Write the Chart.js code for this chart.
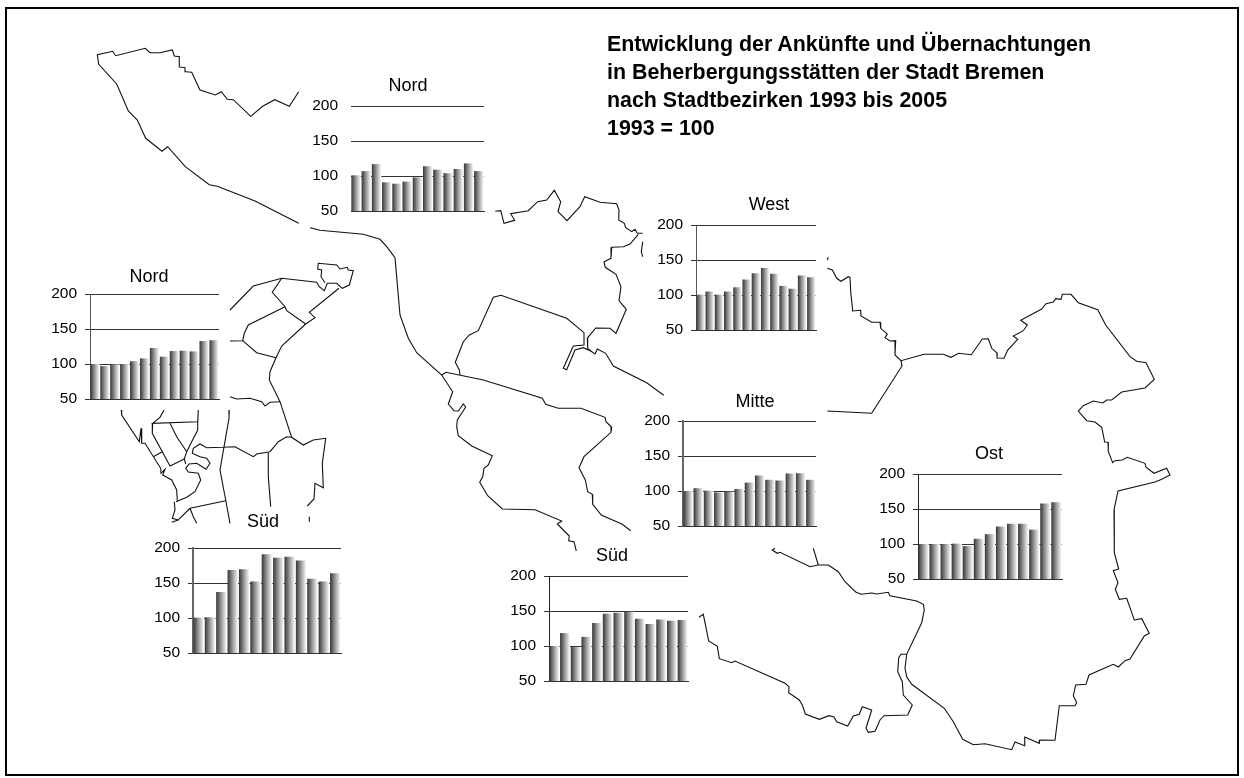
<!DOCTYPE html>
<html lang="de">
<head>
<meta charset="utf-8">
<title>Entwicklung der Ankünfte und Übernachtungen</title>
<script src="https://cdn.jsdelivr.net/npm/chart.js@4/dist/chart.umd.min.js"></script>
<style>
html,body{margin:0;padding:0;background:#fff;overflow:hidden}
#page{position:relative;width:1244px;height:778px;background:#fff;overflow:hidden}
#frame{position:absolute;left:5px;top:7px;width:1230px;height:765px;border:2px solid #000;box-sizing:content-box;pointer-events:none}
canvas{position:absolute}
#heading{position:absolute;left:607px;top:30px;font:bold 21.4px/28px "Liberation Sans",Arial,sans-serif;color:#000;white-space:nowrap}
</style>
</head>
<body>
<div id="page">
<canvas id="map" width="1244" height="778" style="left:0;top:0"></canvas>
<div id="frame"></div>
<div id="heading">Entwicklung der Ankünfte und Übernachtungen<br>in Beherbergungsstätten der Stadt Bremen<br>nach Stadtbezirken 1993 bis 2005<br>1993 = 100</div>
</div>
<script>
const years = [1993,1994,1995,1996,1997,1998,1999,2000,2001,2002,2003,2004,2005];
const tickValues = [50,100,150,200];

const nordTop  = [101,107,117,91,89,92,98,114,109,104,110,118,107];
const nordLeft = [100,97,99.5,100,104,108,123,110.5,118.5,119,118,133,134];
const suedLeft = [100.5,101,137,168.5,169.5,152,191,186,187.5,182,156,152,164];
const suedMid  = [100,118.5,98.5,113,133,146,147.5,149,139,131.5,138,136,137];
const west     = [100.5,105,100.5,105,111,122,131,138.5,130.5,113,109,128,125.5];
const mitte    = [100,104,100.5,98,99,103,112,122,116,115,125,125.5,116];
const ost      = [100,100,100,100.5,97,107.5,114,125,129,129,120.5,158,159.5];

const outlineNorthWest = [[298.7,91.7],[289.3,106.3],[274.7,99.7],[262.7,106.3],[250.7,116.3],[233.3,99.7],[227.3,99.3],[221.3,91.7],[215.3,95],[200,90],[191.7,72.3],[185.7,71.7],[185,67.7],[179.7,67],[179.3,56.7],[174.3,56],[172.3,50],[160,52.7],[150,52.7],[145.3,48.3],[115.7,55.7],[112.7,51.3],[97.3,54.7],[98.7,64.3],[116.7,84],[128.3,111],[137.3,120],[145.7,138.3],[162,151.3],[167.7,146.7],[185.3,166.7],[209.3,184.7],[217.3,186.3],[255,201],[298.7,223.3]];
const outlineWeser = [[310,227.7],[320,230.3],[363.3,234.3],[380,239.3],[386.7,246.7],[395,257.7],[400,315],[408.3,338.3],[416.7,352.7],[441.7,375],[452.7,391.7],[448.3,404],[454,410.7],[458.3,411],[463.3,404],[465.7,407],[457.3,420],[456.7,426.7],[458.3,435.7],[471.7,446],[492.3,455.7],[488.3,465],[484,468.3],[482.7,476.7],[479.7,482.3],[487.7,495.7],[502.3,509],[535,509.7],[561.7,521],[557.3,524],[569.3,536],[568.7,540.7],[574,541.7],[576.3,551]];
const outlineMitte = [[441.7,375],[446,372.3],[483.3,380],[542.3,398.3],[545.7,404.3],[558.3,408.3],[581,408.3],[605,417.3],[606,421.7],[611.7,427.3],[611,432.3],[584,456.7],[579,467.7],[585.3,480],[587.7,491.7],[592.3,494.3],[592.7,504.3],[601.3,515],[622.3,524.3],[630.7,530.7]];
const outlineLoop = [[460,375],[459.3,370],[455.3,362.3],[463.3,341.7],[469.3,335],[478.3,330.7],[493.3,297.3],[501,295.3],[566.7,318.3],[584,332.7],[584,345],[573.3,346],[563.3,368.3],[566.7,369.7],[575,350],[583.3,347.7],[590.7,351],[595,354],[597.3,349],[605.7,353.3],[613.3,366],[646.7,382.7],[663.7,395.3]];
const outlineWestTop = [[495.3,211.3],[500.7,210.7],[504,223.3],[514.7,220.3],[510.7,213.7],[528.3,210.7],[537.7,201.7],[546.7,200],[554.3,190.3],[560.7,201.7],[558,211.7],[567,220.7],[580,206.7],[584.7,196.7],[600,202.3],[616.7,203.7],[619,210],[618.7,220],[624.3,223.3],[625.7,227.7],[631.7,231.7],[635,229.3],[637.3,233.3],[642.7,233.3]];
const outlineWestInner = [[638.3,234.3],[630,244],[623.3,246.7],[611.7,247.3],[611,258.3],[604,261.7],[605.3,267.3],[616,274.3],[621,286.7],[619,300.7],[626.3,309.3],[616,333.3],[610,328.3],[595.7,328],[587.3,338.3],[587.7,348.3],[590.7,351]];
const outlineStub1 = [[642.7,241.7],[641.3,251.7],[642.7,256.7]];
const outlineStub2 = [[828.3,257.3],[827.3,260]];
const outlineEast = [[827.3,268.3],[832.3,270],[836.7,278.3],[841,281.3],[848.3,276.7],[850,277.3],[850.7,291.7],[852.7,311],[860.7,310.3],[861,316],[871.7,322.3],[880,322.3],[880.7,328.3],[887.3,334],[885,337.7],[890,341],[895.7,340.7],[895,355],[901,360.7],[924,354.3],[943.3,354.3],[951,357.3],[958.7,353.3],[971.3,354.7],[982.3,339],[988.3,338.7],[991.7,348.3],[997.3,353.3],[997,358],[1004,358.3],[1007.7,350],[1017.7,339.3],[1013.3,336],[1023.3,330.7],[1027.3,325],[1020.7,320.3],[1041.7,309],[1046,303.7],[1053.3,302],[1055.7,298.7],[1061,299.3],[1062.3,294.3],[1071,294.3],[1078.3,302.7],[1097.7,309.7],[1105.7,325],[1130,356.7],[1136.7,361.3],[1146,362.7],[1154.3,379.3],[1145,388],[1121.7,392],[1111.7,400],[1106.7,400],[1102.7,403],[1093.3,401],[1083.3,405.7],[1078.3,411],[1086.7,420.7],[1095,422],[1101.7,427.3],[1104.7,442],[1108,442.3],[1108.3,451.7],[1112.7,462.7],[1115,460.7],[1122.3,460],[1127.3,457.3],[1145,463.3],[1146,467.3],[1154,473.3],[1166.7,468.3],[1170,475],[1161.7,479.3],[1155,482],[1118,491],[1114,510],[1114.3,530],[1114.3,552.7],[1118.7,569],[1113.3,570.7],[1118,582.7],[1115.3,589.3],[1119.3,599.3],[1126.7,598.3],[1134.3,620],[1141.7,618.7],[1149.3,633.3],[1144.3,636],[1130,659],[1125,660.7],[1118.3,667],[1113.3,664.3],[1089,675],[1086,684.3],[1075.7,685],[1073.3,695.7],[1076.7,702.7],[1075,705.7],[1059.3,705.7],[1055,740.3],[1039.7,740],[1039.3,743.3],[1024.7,737],[1024.7,745.7],[1015,742],[1011.7,749.7],[985,743.7],[973.3,744.7],[962.7,739.3],[953.3,721.7],[944.3,708.3],[911.7,684.3],[906.7,676.7],[905,668.3],[906.7,654.3],[921.7,622.7],[924.3,610],[923.3,604.3],[916.7,601],[890,595.7],[888.3,592.3],[876.7,594],[871.7,593],[861,594.3],[855.7,592],[845,581.7],[838.3,571.7],[828.3,565],[818.3,565],[810,566.7],[780,552.3],[777.3,553.3],[772.3,550],[775,548.3]];
const outlineOstBranch = [[813.3,548.3],[818.3,565]];
const outlineOstWest = [[901,360.7],[902,366],[871.7,413.3],[827.3,411]];
const outlineSouth = [[699,617.3],[703.3,614.3],[708.7,641],[717.3,646.3],[719.3,658.7],[731.7,662.7],[735,661],[785,683.3],[789,686.7],[788.7,692.7],[799.3,700],[802.3,705],[805.3,714],[819.3,719.3],[829,715.7],[834,717],[836.7,721.7],[847.7,726],[853.3,716],[859.3,714.3],[862.3,706.7],[871.7,710],[866,728.3],[868.3,732.3],[875,731.3],[880,720],[884,715.7],[907.7,715],[912.3,705],[903.3,695],[902.3,681.7],[897.7,671.7],[898.7,657.7],[901,654.3],[906.7,654.3]];

const insetSpine = [[230,310],[253.3,286],[281.7,278.3],[316.7,282.3],[319.3,286.7],[324.3,290.7],[327.3,283.3],[336.7,283.3],[342.3,288.3],[349.3,285],[353.3,270.7],[348.3,270],[347.3,267.3],[340,269],[336.7,265],[318.3,263.3],[317.7,269],[321.7,270],[321,276.7],[325,282.7]];
const insetEdge = [[339,288.3],[309.3,312.3],[315,317.7],[305.7,324],[281.7,346],[276,357.7],[270,371.7],[269.3,380],[280,401.7],[291.7,437.3],[303.3,445],[313.3,440],[325.7,438.3],[322.3,463.3],[323.3,487.7],[315,483.3],[314,499],[307.3,506]];
const insetTick = [[309.3,516.7],[309.3,521.7]];
const insetA = [[281.7,278.3],[272.3,292.3],[285,306.7],[286.7,310.7],[305.7,324]];
const insetB = [[285,306.7],[248.3,325],[244.3,333.3],[242.7,340.7],[230,341]];
const insetC = [[242.7,340.7],[256.7,352.7],[276,357.7]];
const insetD = [[230,396.7],[236.7,399],[250,398.3],[261.7,401.7],[265,406],[270,402.3],[280,401.7]];
const insetRiver = [[291.7,437.3],[286.7,436.7],[278.3,441.7],[270,451.7],[256.7,454],[253.3,456.7],[235,446.7],[222.7,447.3],[206.7,447.7],[200,444],[193.3,448.3],[192.3,453.3],[200,456.7],[206.7,458.3],[210,463.3],[206,469.3],[196.7,463.3],[189,464],[185.7,468.3],[188.3,472],[198.3,473.3],[200.7,480],[195,491.7],[186.7,497.3],[176,501.7]];
const insetE = [[268.3,452.7],[268.3,476.7],[270.7,506.7]];
const insetF = [[229.3,410],[229,418.3],[220,470],[225.7,500],[230,523.3]];
const insetG = [[225.7,500.7],[190,508.3],[178.3,520],[172.3,518.3],[175,510],[174.3,501.7]];
const insetH = [[190,508.3],[193.3,516.7],[196.7,523.3]];
const insetI = [[178.3,520],[171.7,522.3]];
const insetJ = [[121.3,410],[121.7,415],[139.3,441.7],[141,428.3],[141.7,443.3],[145,443.3],[160.7,468.3],[161,473.3],[165,469.3],[162.7,475],[171.7,480],[176.7,490],[177.3,500.7]];
const insetK = [[164,410],[160,417.3],[152.7,423.3],[197.7,421.7],[198.3,410]];
const insetL = [[197.7,421.7],[197.7,430],[191.7,441.7],[186.7,451.7],[184.3,459],[185.7,464]];
const insetM = [[152.7,423.3],[152.3,433.3],[170,466],[184.3,459]];
const insetN = [[170,423.3],[176.7,436.7],[186.7,451.7]];
const insetO = [[153.3,456.7],[162.3,451.7]];

const outlines = [outlineNorthWest,outlineWeser,outlineMitte,outlineLoop,outlineWestTop,outlineWestInner,outlineStub1,outlineStub2,outlineEast,outlineOstBranch,outlineOstWest,outlineSouth,insetSpine,insetEdge,insetTick,insetA,insetB,insetC,insetD,insetRiver,insetE,insetF,insetG,insetH,insetI,insetJ,insetK,insetL,insetM,insetN,insetO];

new Chart(document.getElementById('map'),{
  type:'scatter',
  data:{datasets:outlines.map(o=>({
    data:o.map(p=>({x:p[0],y:p[1]})),
    showLine:true,borderColor:'#111',borderWidth:1.1,pointRadius:0,fill:false,tension:0
  }))},
  options:{
    responsive:false,animation:false,events:[],
    layout:{padding:0},
    plugins:{legend:{display:false},tooltip:{enabled:false},title:{display:false}},
    scales:{
      x:{type:'linear',min:0,max:1244,display:false},
      y:{type:'linear',min:0,max:778,reverse:true,display:false}
    }
  }
});

const AXIS_GUTTER = 60;
const BAR_SHARE = 0.93;

function barGradient(ctx){
  const chart = ctx.chart, sx = chart.scales.x;
  if(ctx.dataIndex===undefined || !sx || !sx.width) return '#888';
  const step = sx.width/years.length, c = sx.getPixelForValue(ctx.dataIndex), h = step*BAR_SHARE/2;
  const g = chart.ctx.createLinearGradient(c-h,0,c+h,0);
  g.addColorStop(0,'#353535');
  g.addColorStop(0.45,'#939393');
  g.addColorStop(1,'#ffffff');
  return g;
}

/* lets each small-multiple title sit over its own centre rather than the plot's */
const titleAcrossCanvas = {
  id:'titleAcrossCanvas',
  afterLayout(chart){
    if(chart.titleBlock){ chart.titleBlock.left = 0; chart.titleBlock.right = chart.width; }
  }
};

function miniChart(name,values,box){
  const left = box.axisX-AXIS_GUTTER;
  const right = 2*box.titleX-left;
  const plotH = box.y50-box.y200;
  const titleGap = box.y200-box.titleY-10;
  const canvas = document.createElement('canvas');
  const w = right-left, h = 20+titleGap+plotH+12;
  canvas.width = w; canvas.height = h;
  canvas.style.left = left+'px';
  canvas.style.top = (box.y200-20-titleGap)+'px';
  document.getElementById('page').appendChild(canvas);
  new Chart(canvas,{
    type:'bar',
    data:{labels:years,datasets:[{data:values,backgroundColor:barGradient,borderWidth:0,barPercentage:BAR_SHARE,categoryPercentage:1}]},
    plugins:[titleAcrossCanvas],
    options:{
      responsive:false,animation:false,events:[],
      layout:{padding:{left:0,top:0,bottom:12,right:right-box.right}},
      plugins:{
        legend:{display:false},tooltip:{enabled:false},
        title:{display:true,text:name,color:'#000',
          font:{family:'"Liberation Sans",Arial,sans-serif',size:18,weight:'normal',lineHeight:'20px'},
          padding:{top:0,bottom:titleGap}}
      },
      scales:{
        x:{display:true,ticks:{display:false},grid:{display:false,drawTicks:false,tickLength:0},
           afterFit:s=>{s.height=0;},
           border:{display:true,color:'#333',width:1,z:1}},
        y:{min:50,max:200,
          afterFit:s=>{s.width=AXIS_GUTTER;s.paddingTop=0;s.paddingBottom=0;},
          afterBuildTicks:s=>{s.ticks=tickValues.map(v=>({value:v}));},
          ticks:{color:'#000',padding:box.tick?8:13,font:{family:'"Liberation Sans",Arial,sans-serif',size:15.5}},
          grid:{color:'#333',lineWidth:1,tickLength:box.tick,drawTicks:box.tick>0},
          border:{display:box.axis!==null,color:box.axis||'#000',width:box.axisW||1}
        }
      }
    }
  });
}

miniChart('Nord',nordTop, {axisX:351,right:484,y200:106,y50:211,titleX:408,titleY:86,tick:0,axis:null});
miniChart('Nord',nordLeft,{axisX:90,right:219,y200:294,y50:399,titleX:149,titleY:277,tick:5,axis:'#555'});
miniChart('Süd',suedLeft, {axisX:193,right:341,y200:548,y50:653,titleX:263,titleY:522,tick:5,axis:'#666',axisW:2});
miniChart('Süd',suedMid,  {axisX:549,right:688,y200:576,y50:681,titleX:612,titleY:556,tick:5,axis:'#222'});
miniChart('West',west,    {axisX:696,right:816,y200:225,y50:330,titleX:769,titleY:205,tick:5,axis:'#555'});
miniChart('Mitte',mitte,  {axisX:683,right:816,y200:421,y50:526,titleX:755,titleY:402,tick:5,axis:'#666',axisW:2});
miniChart('Ost',ost,      {axisX:918,right:1062,y200:474,y50:579,titleX:989,titleY:454,tick:5,axis:'#222'});
</script>
</body>
</html>
